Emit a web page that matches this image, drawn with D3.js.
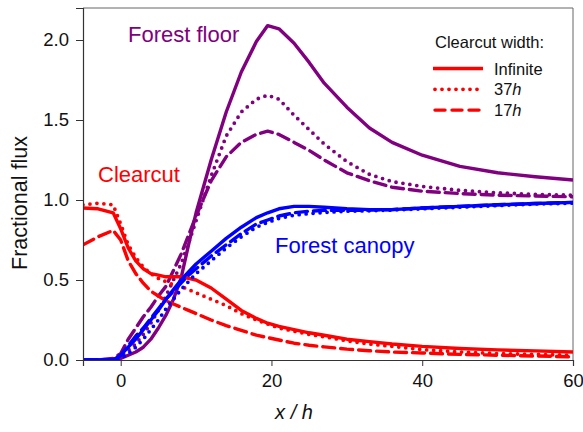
<!DOCTYPE html>
<html>
<head>
<meta charset="utf-8">
<script src="https://cdn.jsdelivr.net/npm/d3@7"></script>
<style>
  body { margin: 0; background: #fff; }
  svg text { font-family: Arial, "Liberation Sans", sans-serif; }
</style>
</head>
<body>
<div id="plot"></div>
<script>
// x positions (in h) shared by every series
const xs = [-5, -3, -1, 0, 1, 2, 3, 4, 5, 6, 7, 8, 9, 10, 12, 14, 16, 18, 19.5, 21, 23, 25, 27, 30, 33, 36, 40, 45, 50, 55, 60];

// Clearcut (red)
const clear_inf = [0.95, 0.945, 0.92, 0.82, 0.70, 0.62, 0.57, 0.54, 0.53, 0.52, 0.52, 0.52, 0.51, 0.50, 0.45, 0.38, 0.31, 0.26, 0.23, 0.21, 0.19, 0.17, 0.155, 0.13, 0.115, 0.10, 0.085, 0.072, 0.063, 0.057, 0.05];
const clear_37 = [0.97, 0.98, 0.97, 0.85, 0.72, 0.64, 0.58, 0.54, 0.51, 0.49, 0.47, 0.46, 0.44, 0.42, 0.38, 0.34, 0.29, 0.25, 0.225, 0.20, 0.18, 0.16, 0.145, 0.12, 0.10, 0.085, 0.065, 0.05, 0.04, 0.035, 0.03];
const clear_17 = [0.72, 0.77, 0.81, 0.75, 0.62, 0.54, 0.48, 0.43, 0.40, 0.37, 0.35, 0.33, 0.31, 0.29, 0.25, 0.215, 0.185, 0.155, 0.14, 0.125, 0.105, 0.092, 0.082, 0.068, 0.058, 0.05, 0.044, 0.035, 0.03, 0.025, 0.02];

// Forest canopy (blue)
const canopy_inf = [0, 0, 0, 0.03, 0.08, 0.13, 0.19, 0.25, 0.31, 0.38, 0.44, 0.50, 0.55, 0.60, 0.68, 0.76, 0.83, 0.89, 0.92, 0.945, 0.96, 0.96, 0.955, 0.945, 0.94, 0.94, 0.95, 0.96, 0.97, 0.978, 0.985];
const canopy_37 = [0, 0, 0, 0.01, 0.04, 0.08, 0.13, 0.19, 0.25, 0.32, 0.38, 0.44, 0.49, 0.54, 0.62, 0.70, 0.77, 0.83, 0.86, 0.885, 0.905, 0.915, 0.922, 0.93, 0.933, 0.937, 0.945, 0.955, 0.965, 0.975, 0.98];
const canopy_17 = [0, 0, 0, 0.03, 0.09, 0.15, 0.20, 0.26, 0.32, 0.38, 0.43, 0.48, 0.53, 0.57, 0.65, 0.72, 0.79, 0.85, 0.875, 0.9, 0.92, 0.93, 0.935, 0.935, 0.937, 0.94, 0.95, 0.96, 0.97, 0.978, 0.985];

// Forest floor (purple)
const floor_inf = [0, 0, 0.005, 0.01, 0.03, 0.05, 0.08, 0.13, 0.20, 0.28, 0.38, 0.51, 0.72, 0.92, 1.25, 1.55, 1.80, 1.99, 2.09, 2.07, 1.98, 1.86, 1.73, 1.58, 1.45, 1.36, 1.28, 1.21, 1.17, 1.145, 1.125];
const floor_37 = [0, 0, 0.005, 0.02, 0.06, 0.10, 0.16, 0.23, 0.31, 0.40, 0.50, 0.60, 0.73, 0.87, 1.15, 1.40, 1.55, 1.63, 1.655, 1.63, 1.53, 1.44, 1.35, 1.24, 1.16, 1.115, 1.085, 1.06, 1.045, 1.035, 1.03];
const floor_17 = [0, 0, 0.01, 0.04, 0.13, 0.20, 0.27, 0.33, 0.40, 0.46, 0.56, 0.66, 0.78, 0.90, 1.12, 1.27, 1.36, 1.41, 1.43, 1.41, 1.36, 1.31, 1.25, 1.17, 1.12, 1.08, 1.055, 1.04, 1.03, 1.025, 1.02];

const x_ticks = [0, 20, 40, 60];
const y_ticks = [0, 0.5, 1.0, 1.5, 2.0];
const legend_labels = [["Infinite", ""], ["37", "h"], ["17", "h"]];

const RED = "#ff0000", BLUE = "#0000ff", PURPLE = "#800080";
const styles = {
    solid: null,
    dotted: "0 7",
    dashed: "12 6"
};

const series = [
    { vals: floor_inf, color: PURPLE, style: "solid" },
    { vals: floor_37, color: PURPLE, style: "dotted" },
    { vals: floor_17, color: PURPLE, style: "dashed" },
    { vals: clear_inf, color: RED, style: "solid" },
    { vals: clear_37, color: RED, style: "dotted" },
    { vals: clear_17, color: RED, style: "dashed" },
    { vals: canopy_37, color: BLUE, style: "dotted" },
    { vals: canopy_17, color: BLUE, style: "dashed" },
    { vals: canopy_inf, color: BLUE, style: "solid" }
];

const width = 583, height = 432;
const margin = { left: 83, right: 10, top: 8, bottom: 72 };

let svg = d3.select("#plot").append("svg")
    .attr("width", width)
    .attr("height", height);

let x = d3.scaleLinear().domain([-5, 60]).range([margin.left, width - margin.right]);
let y = d3.scaleLinear().domain([0, 2.2]).range([height - margin.bottom, margin.top]);

svg.append("clipPath").attr("id", "clip")
    .append("rect")
    .attr("x", margin.left).attr("y", margin.top - 2)
    .attr("width", x.range()[1] - margin.left)
    .attr("height", y.range()[0] - margin.top + 2);

// frame: top and right edges
svg.append("path")
    .attr("d", `M${margin.left},${margin.top}H${x.range()[1]}V${y.range()[0]}`)
    .attr("fill", "none")
    .attr("stroke", "#666")
    .attr("stroke-width", 1);

const line = d3.line()
    .x((d, i) => x(xs[i]))
    .y(d => y(d));

let g_lines = svg.append("g").attr("clip-path", "url(#clip)");
series.forEach(s => {
    g_lines.append("path")
        .attr("d", line(s.vals))
        .attr("fill", "none")
        .attr("stroke", s.color)
        .attr("stroke-width", s.style === "dotted" ? 3.8 : 3.4)
        .attr("stroke-linecap", s.style === "solid" ? "butt" : "round")
        .attr("stroke-linejoin", "round")
        .attr("stroke-dasharray", styles[s.style]);
});

// axes
let x_axis = svg.append("g")
    .attr("transform", `translate(0,${y.range()[0]})`)
    .call(d3.axisBottom(x).tickValues(x_ticks).tickSize(6).tickPadding(8).tickFormat(d3.format("d")));
let y_axis = svg.append("g")
    .attr("transform", `translate(${margin.left},0)`)
    .call(d3.axisLeft(y).tickValues(y_ticks).tickSize(7).tickPadding(7).tickFormat(d3.format(".1f")));

[x_axis, y_axis].forEach(a => {
    a.select(".domain").attr("stroke", "#333").attr("stroke-width", 1.2);
    a.selectAll(".tick line").attr("stroke", "#333");
    a.selectAll(".tick text")
        .attr("fill", "#111")
        .style("font-size", "18.5px")
        .style("font-family", "Arial, 'Liberation Sans', sans-serif");
});

// axis titles
svg.append("text")
    .attr("transform", "translate(27,203) rotate(-90)")
    .attr("text-anchor", "middle")
    .attr("fill", "#111")
    .style("font-size", "21.5px")
    .text("Fractional flux");

svg.append("text")
    .attr("x", 294).attr("y", 419)
    .attr("text-anchor", "middle")
    .attr("fill", "#111")
    .style("font-size", "20px")
    .style("font-style", "italic")
    .text("x / h");

// series labels
const labels = [
    { text: "Forest floor", x: 128, y: 42, color: PURPLE },
    { text: "Clearcut", x: 98, y: 182, color: RED },
    { text: "Forest canopy", x: 275, y: 253, color: BLUE }
];
labels.forEach(l => {
    svg.append("text")
        .attr("x", l.x).attr("y", l.y)
        .attr("fill", l.color)
        .style("font-size", "22px")
        .text(l.text);
});

// legend
let legend = svg.append("g");
legend.append("text")
    .attr("x", 435).attr("y", 48)
    .attr("fill", "#111")
    .style("font-size", "16.5px")
    .text("Clearcut width:");

["solid", "dotted", "dashed"].forEach((st, i) => {
    let ly = 68.5 + i * 20.8;
    legend.append("line")
        .attr("x1", st === "solid" ? 433 : 435).attr("x2", st === "solid" ? 483 : 481)
        .attr("y1", ly).attr("y2", ly)
        .attr("stroke", RED)
        .attr("stroke-width", st === "dotted" ? 3.8 : 3.4)
        .attr("stroke-linecap", st === "solid" ? "butt" : "round")
        .attr("stroke-dasharray", st === "dotted" ? "0 7" : (st === "dashed" ? "10 7" : null));
    let t = legend.append("text")
        .attr("x", 494).attr("y", ly + 6)
        .attr("fill", "#111")
        .style("font-size", "16.5px")
        .text(legend_labels[i][0]);
    if (legend_labels[i][1]) {
        t.append("tspan").style("font-style", "italic").text(legend_labels[i][1]);
    }
});
</script>
</body>
</html>
